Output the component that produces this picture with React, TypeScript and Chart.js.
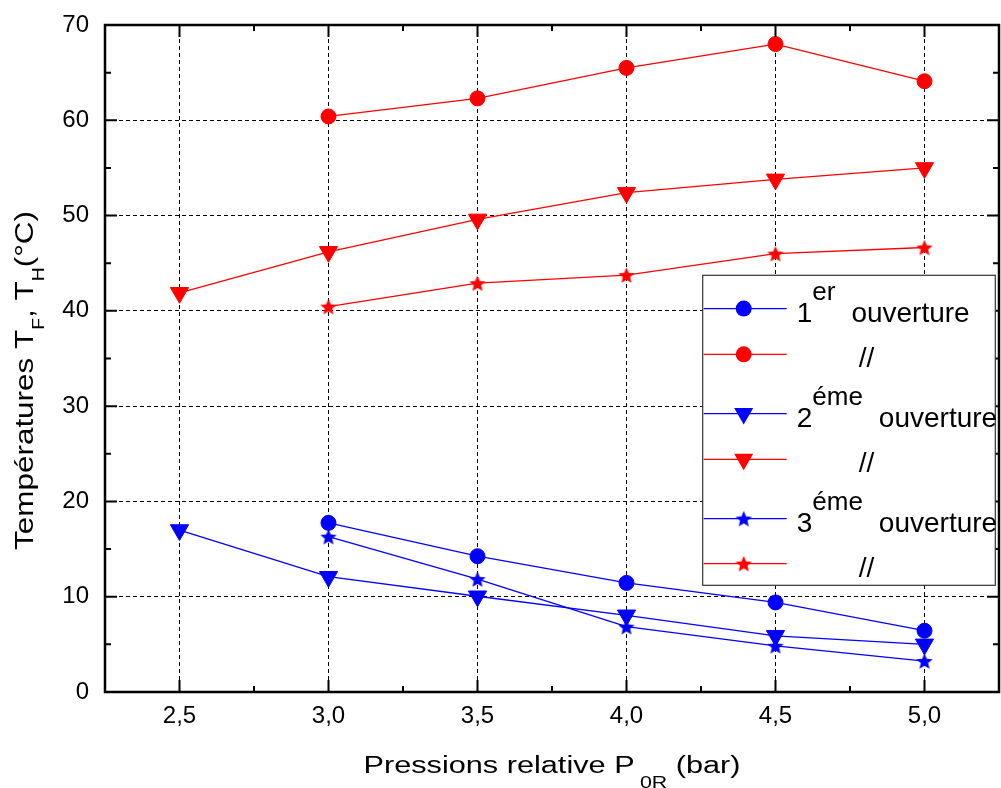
import React, { useEffect, useRef } from "react";
import { Chart, registerables } from "chart.js";

Chart.register(...registerables);

const FONT = "'Liberation Sans', Arial, sans-serif";

// ---- data ----
const xTicks = [2.5, 3.0, 3.5, 4.0, 4.5, 5.0];
const xTickLabels = ["2,5", "3,0", "3,5", "4,0", "4,5", "5,0"];
const yTicks = [0, 10, 20, 30, 40, 50, 60, 70];
const yTickLabels = ["0", "10", "20", "30", "40", "50", "60", "70"];

const pressureFrom3 = [3.0, 3.5, 4.0, 4.5, 5.0];
const pressureFrom25 = [2.5, 3.0, 3.5, 4.0, 4.5, 5.0];

const open1Cold = [17.75, 14.25, 11.45, 9.4, 6.43];
const open1Hot = [60.4, 62.3, 65.5, 68.0, 64.1];
const open2Cold = [17.0, 12.1, 10.05, 8.05, 5.9, 5.0];
const open2Hot = [41.9, 46.2, 49.6, 52.4, 53.8, 55.0];
const open3Cold = [16.3, 11.85, 6.85, 4.85, 3.25];
const open3Hot = [40.45, 42.9, 43.75, 46.0, 46.65];

const legendLabels = [
  { main: "1", sup: "er", rest: "ouverture" },
  { main: "", sup: "", rest: "//" },
  { main: "2", sup: "éme", rest: "ouverture" },
  { main: "", sup: "", rest: "//" },
  { main: "3", sup: "éme", rest: "ouverture" },
  { main: "", sup: "", rest: "//" },
];

const xTitleParts = [
  { text: "Pressions relative P", size: 23, shift: 0, gap: 4 },
  { text: "0R", size: 16, shift: 15, gap: 0 },
  { text: " (bar)", size: 23, shift: 0, gap: 0 },
];
const yTitleParts = [
  { text: "Températures T", size: 26, shift: 0, gap: 0 },
  { text: "F", size: 16, shift: 11, gap: 0 },
  { text: ", T", size: 26, shift: 0, gap: 0 },
  { text: "H", size: 16, shift: 11, gap: 0 },
  { text: "(°C)", size: 26, shift: 0, gap: 0 },
];

const BLUE = "#0000ff";
const RED = "#ff0000";

function makeStar(color: string, R: number): HTMLCanvasElement {
  const size = Math.ceil(R * 2 + 2);
  const c = document.createElement("canvas");
  c.width = size;
  c.height = size;
  const ctx = c.getContext("2d")!;
  const cx = size / 2;
  const cy = size / 2 + R * 0.1;
  const r = R * 0.45;
  ctx.beginPath();
  for (let i = 0; i < 10; i++) {
    const rad = (Math.PI / 5) * i - Math.PI / 2;
    const rr = i % 2 === 0 ? R : r;
    const px = cx + Math.cos(rad) * rr;
    const py = cy + Math.sin(rad) * rr;
    if (i === 0) ctx.moveTo(px, py);
    else ctx.lineTo(px, py);
  }
  ctx.closePath();
  ctx.fillStyle = color;
  ctx.fill();
  return c;
}

function measureParts(ctx: CanvasRenderingContext2D, parts: any[]) {
  let w = 0;
  for (const p of parts) {
    ctx.font = `${p.size}px ${FONT}`;
    w += ctx.measureText(p.text).width + p.gap;
  }
  return w;
}

function drawTitle(
  ctx: CanvasRenderingContext2D,
  parts: any[],
  cx: number,
  cy: number,
  rotation: number,
  targetLen: number
) {
  const natural = measureParts(ctx, parts);
  const s = targetLen / natural;
  ctx.save();
  ctx.translate(cx, cy);
  ctx.rotate(rotation);
  ctx.scale(s, 1);
  ctx.textAlign = "left";
  ctx.textBaseline = "alphabetic";
  ctx.fillStyle = "#000";
  let x = -natural / 2;
  for (const p of parts) {
    ctx.font = `${p.size}px ${FONT}`;
    ctx.fillText(p.text, x, p.shift);
    x += ctx.measureText(p.text).width + p.gap;
  }
  ctx.restore();
}

function drawMarker(ctx: CanvasRenderingContext2D, style: any, color: string, x: number, y: number) {
  ctx.save();
  ctx.fillStyle = color;
  if (style === "circle") {
    ctx.beginPath();
    ctx.arc(x, y, 8, 0, Math.PI * 2);
    ctx.fill();
  } else if (style === "triangle") {
    const r = 11;
    ctx.beginPath();
    ctx.moveTo(x, y + r);
    ctx.lineTo(x + r * Math.sin(Math.PI / 3), y - r / 2);
    ctx.lineTo(x - r * Math.sin(Math.PI / 3), y - r / 2);
    ctx.closePath();
    ctx.fill();
  } else if (style instanceof HTMLCanvasElement) {
    ctx.drawImage(style, x - style.width / 2, y - style.height / 2);
  }
  ctx.restore();
}

export default function App() {
  const ref = useRef<HTMLCanvasElement>(null);

  useEffect(() => {
    document.body.style.margin = "0";
    const blueStar = makeStar(BLUE, 8.6);
    const redStar = makeStar(RED, 8.6);

    const mk = (xs: number[], ys: number[]) => xs.map((x, i) => ({ x, y: ys[i] }));

    const datasets: any[] = [
      { data: mk(pressureFrom3, open1Cold), color: BLUE, pointStyle: "circle", pointRadius: 7.5, pointRotation: 0 },
      { data: mk(pressureFrom3, open1Hot), color: RED, pointStyle: "circle", pointRadius: 7.5, pointRotation: 0 },
      { data: mk(pressureFrom25, open2Cold), color: BLUE, pointStyle: "triangle", pointRadius: 10.5, pointRotation: 180 },
      { data: mk(pressureFrom25, open2Hot), color: RED, pointStyle: "triangle", pointRadius: 10.5, pointRotation: 180 },
      { data: mk(pressureFrom3, open3Cold), color: BLUE, pointStyle: blueStar, pointRadius: 9, pointRotation: 0 },
      { data: mk(pressureFrom3, open3Hot), color: RED, pointStyle: redStar, pointRadius: 9, pointRotation: 0 },
    ].map((d) => ({
      data: d.data,
      borderColor: d.color,
      backgroundColor: d.color,
      pointBackgroundColor: d.color,
      pointBorderColor: d.color,
      pointBorderWidth: 1,
      pointStyle: d.pointStyle,
      pointRadius: d.pointRadius,
      pointRotation: d.pointRotation,
      borderWidth: 1.3,
      tension: 0,
      fill: false,
    }));

    const legendMarkers = [
      { style: "circle", color: BLUE },
      { style: "circle", color: RED },
      { style: "triangle", color: BLUE },
      { style: "triangle", color: RED },
      { style: blueStar, color: BLUE },
      { style: redStar, color: RED },
    ];
    const legendRowOffsets = [33.3, 79, 138.3, 184, 243.3, 288.3];

    const overlay = {
      id: "overlay",
      afterDatasetsDraw(chart: any) {
        const { ctx, chartArea } = chart;
        const { left, right, top, bottom } = chartArea;
        const xs = chart.scales.x;
        const ys = chart.scales.y;
        ctx.save();
        ctx.strokeStyle = "#000";
        ctx.lineWidth = 2;
        const xMinor: number[] = [];
        for (let i = 0; i < xTicks.length - 1; i++) xMinor.push((xTicks[i] + xTicks[i + 1]) / 2);
        const yMinor: number[] = [];
        for (let i = 0; i < yTicks.length - 1; i++) yMinor.push((yTicks[i] + yTicks[i + 1]) / 2);
        ctx.beginPath();
        for (const v of xTicks) {
          const px = xs.getPixelForValue(v);
          ctx.moveTo(px, bottom);
          ctx.lineTo(px, bottom - 12);
          ctx.moveTo(px, top);
          ctx.lineTo(px, top + 12);
        }
        for (const v of xMinor) {
          const px = xs.getPixelForValue(v);
          ctx.moveTo(px, bottom);
          ctx.lineTo(px, bottom - 6);
          ctx.moveTo(px, top);
          ctx.lineTo(px, top + 6);
        }
        for (const v of yTicks) {
          const py = ys.getPixelForValue(v);
          ctx.moveTo(left, py);
          ctx.lineTo(left + 12, py);
          ctx.moveTo(right, py);
          ctx.lineTo(right - 12, py);
        }
        for (const v of yMinor) {
          const py = ys.getPixelForValue(v);
          ctx.moveTo(left, py);
          ctx.lineTo(left + 6, py);
          ctx.moveTo(right, py);
          ctx.lineTo(right - 6, py);
        }
        ctx.stroke();
        ctx.lineWidth = 2.5;
        ctx.strokeRect(left, top, right - left, bottom - top);
        ctx.restore();
      },
      afterDraw(chart: any) {
        const { ctx, chartArea } = chart;
        const { left, right, top, bottom } = chartArea;
        drawTitle(ctx, xTitleParts, (left + right) / 2, bottom + 81, 0, 377);
        drawTitle(ctx, yTitleParts, 33, (top + bottom) / 2 + 22, -Math.PI / 2, 339);

        const bx = right - 296.3;
        const by = top + 250.3;
        const bw = 292.6;
        const bh = 310;
        ctx.save();
        ctx.fillStyle = "#fff";
        ctx.fillRect(bx, by, bw, bh);
        ctx.strokeStyle = "#333";
        ctx.lineWidth = 1.2;
        ctx.strokeRect(bx, by, bw, bh);
        legendLabels.forEach((lab, i) => {
          const ry = by + legendRowOffsets[i];
          const m = legendMarkers[i];
          ctx.strokeStyle = m.color;
          ctx.lineWidth = 1.3;
          ctx.beginPath();
          ctx.moveTo(bx + 1, ry);
          ctx.lineTo(bx + 84, ry);
          ctx.stroke();
          drawMarker(ctx, m.style, m.color, bx + 41, ry);
          ctx.fillStyle = "#000";
          ctx.textAlign = "left";
          ctx.textBaseline = "alphabetic";
          if (lab.main) {
            let x = bx + 94;
            ctx.font = `28px ${FONT}`;
            ctx.fillText(lab.main, x, ry + 13);
            x += ctx.measureText(lab.main).width;
            ctx.font = `26px ${FONT}`;
            ctx.fillText(lab.sup, x, ry - 9);
            x += ctx.measureText(lab.sup).width + 16;
            ctx.font = `28px ${FONT}`;
            ctx.fillText(lab.rest, x, ry + 13);
          } else {
            ctx.font = `28px ${FONT}`;
            ctx.fillText(lab.rest, bx + 156, ry + 13);
          }
        });
        ctx.restore();
      },
    };

    const chart = new Chart(ref.current!, {
      type: "line",
      data: { datasets },
      options: {
        animation: false,
        responsive: false,
        events: [],
        layout: { autoPadding: false, padding: { top: 25, right: 2, left: 0, bottom: 0 } },
        plugins: { legend: { display: false }, tooltip: { enabled: false } },
        scales: {
          x: {
            type: "linear",
            min: 2.25,
            max: 5.25,
            afterBuildTicks: (scale: any) => {
              scale.ticks = xTicks.map((v) => ({ value: v }));
            },
            afterFit: (scale: any) => {
              scale.height = 96;
              scale.paddingLeft = 0;
              scale.paddingRight = 0;
            },
            ticks: {
              callback: (_v: any, i: number) => xTickLabels[i],
              font: { family: FONT, size: 24 },
              color: "#000",
              padding: 10,
              maxRotation: 0,
              autoSkip: false,
            },
            grid: { color: "#000", lineWidth: 1, drawTicks: false },
            border: { display: false, dash: [4, 3] },
          },
          y: {
            type: "linear",
            min: 0,
            max: 70,
            afterBuildTicks: (scale: any) => {
              scale.ticks = yTicks.map((v) => ({ value: v }));
            },
            afterFit: (scale: any) => {
              scale.width = 105;
              scale.paddingTop = 0;
              scale.paddingBottom = 0;
            },
            ticks: {
              callback: (_v: any, i: number) => yTickLabels[i],
              font: { family: FONT, size: 24 },
              color: "#000",
              padding: 16,
              autoSkip: false,
            },
            grid: { color: "#000", lineWidth: 1, drawTicks: false },
            border: { display: false, dash: [4, 3] },
          },
        },
      },
      plugins: [overlay],
    });
    return () => chart.destroy();
  }, []);

  return (
    <div style={{ width: 1001, height: 788 }}>
      <canvas ref={ref} width={1001} height={788} style={{ display: "block" }} />
    </div>
  );
}
